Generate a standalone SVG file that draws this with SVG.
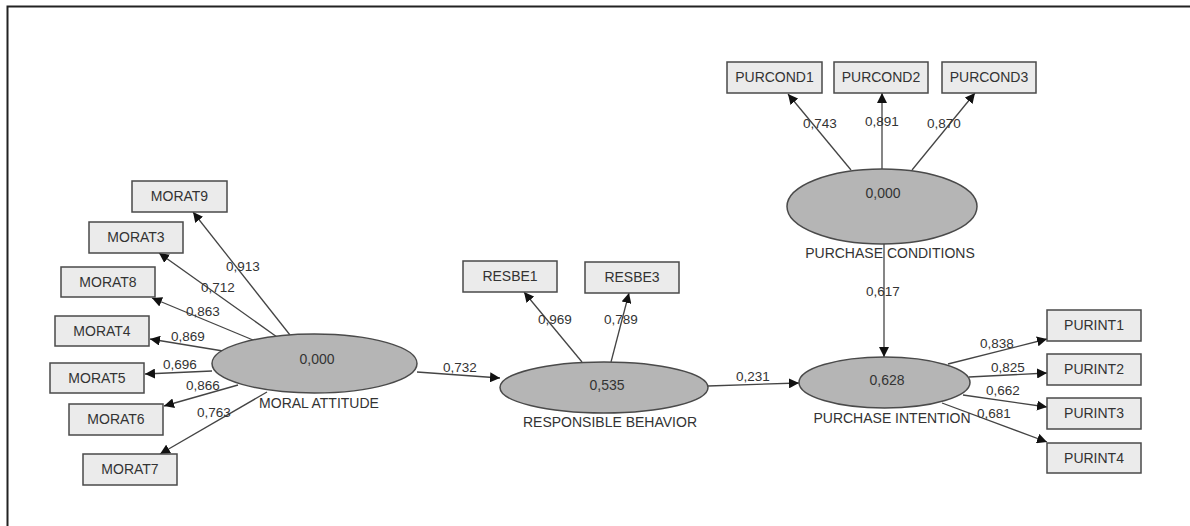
<svg xmlns="http://www.w3.org/2000/svg" width="1190" height="526" viewBox="0 0 1190 526">
<style>
.box{fill:#ebebeb;stroke:#4a4a4a;stroke-width:1.5}
.lv{fill:#b5b5b5;stroke:#4a4a4a;stroke-width:1.5}
text{font-family:"Liberation Sans",Arial,sans-serif;font-size:13.5px;fill:#333;text-anchor:middle}
.n{font-size:14px}
.c{stroke:#444;stroke-width:1.3;fill:none;marker-end:url(#ah)}
</style>
<defs>
<marker id="ah" viewBox="0 0 10 10" refX="10" refY="5" markerWidth="10" markerHeight="10" markerUnits="userSpaceOnUse" orient="auto">
<path d="M0,0 L10,5 L0,10 z" fill="#111"/>
</marker>
</defs>
<rect width="1190" height="526" fill="#fff"/>
<path d="M7.5,526 V6.5 H1190" fill="none" stroke="#222" stroke-width="2"/>
<g id="connectors">
<line class="c" x1="290" y1="335" x2="193" y2="212"/>
<line class="c" x1="277" y1="337" x2="159" y2="253"/>
<line class="c" x1="253" y1="340" x2="152" y2="298"/>
<line class="c" x1="223" y1="351" x2="150" y2="339"/>
<line class="c" x1="212" y1="371" x2="145" y2="374"/>
<line class="c" x1="238" y1="385" x2="164" y2="406"/>
<line class="c" x1="267" y1="392" x2="160" y2="454"/>
<line class="c" x1="417" y1="372" x2="500" y2="378"/>
<line class="c" x1="582" y1="362" x2="524" y2="292"/>
<line class="c" x1="611" y1="362" x2="629" y2="293"/>
<line class="c" x1="708" y1="386" x2="799" y2="383"/>
<line class="c" x1="851" y1="170" x2="788" y2="94"/>
<line class="c" x1="882" y1="169" x2="882" y2="93"/>
<line class="c" x1="912" y1="170" x2="975" y2="93"/>
<line class="c" x1="884" y1="244" x2="884" y2="357"/>
<line class="c" x1="948" y1="364" x2="1047" y2="339"/>
<line class="c" x1="969" y1="377" x2="1047" y2="373"/>
<line class="c" x1="963" y1="395" x2="1047" y2="407"/>
<line class="c" x1="942" y1="403" x2="1047" y2="442"/>
<text x="243" y="271">0,913</text>
<text x="218" y="292">0,712</text>
<text x="203" y="316">0,863</text>
<text x="188" y="341">0,869</text>
<text x="180" y="369">0,696</text>
<text x="203" y="390">0,866</text>
<text x="214" y="417">0,763</text>
<text x="460" y="372">0,732</text>
<text x="555" y="324">0,969</text>
<text x="621" y="324">0,789</text>
<text x="753" y="381">0,231</text>
<text x="820" y="128">0,743</text>
<text x="882" y="126">0,891</text>
<text x="944" y="128">0,870</text>
<text x="883" y="296">0,617</text>
<text x="997" y="348">0,838</text>
<text x="1008" y="372">0,825</text>
<text x="1003" y="395">0,662</text>
<text x="994" y="418">0,681</text>
</g>
<g id="MORAL_ATTITUDE"><ellipse class="lv" cx="314.5" cy="363.5" rx="102.5" ry="29.5"/><text class="n" x="317" y="364">0,000</text><text class="n" x="319" y="408">MORAL ATTITUDE</text></g>
<g id="RESPONSIBLE_BEHAVIOR"><ellipse class="lv" cx="604" cy="387.5" rx="104" ry="25.5"/><text class="n" x="607" y="390">0,535</text><text class="n" x="610" y="427">RESPONSIBLE BEHAVIOR</text></g>
<g id="PURCHASE_CONDITIONS"><ellipse class="lv" cx="882" cy="206.5" rx="95" ry="37.5"/><text class="n" x="883" y="198">0,000</text><text class="n" x="890" y="258">PURCHASE CONDITIONS</text></g>
<g id="PURCHASE_INTENTION"><ellipse class="lv" cx="884.5" cy="382.5" rx="85.5" ry="25.5"/><text class="n" x="887" y="385">0,628</text><text class="n" x="892" y="423">PURCHASE INTENTION</text></g>
<g id="MORAT9"><rect class="box" x="132" y="181" width="95" height="31"/><text class="n" x="179.5" y="201">MORAT9</text></g>
<g id="MORAT3"><rect class="box" x="89" y="222" width="94" height="31"/><text class="n" x="136" y="242">MORAT3</text></g>
<g id="MORAT8"><rect class="box" x="61" y="267" width="94" height="30"/><text class="n" x="108" y="287">MORAT8</text></g>
<g id="MORAT4"><rect class="box" x="55" y="316" width="94" height="30"/><text class="n" x="102" y="336">MORAT4</text></g>
<g id="MORAT5"><rect class="box" x="50" y="363" width="94" height="30"/><text class="n" x="97" y="383">MORAT5</text></g>
<g id="MORAT6"><rect class="box" x="69" y="404" width="94" height="31"/><text class="n" x="116" y="424">MORAT6</text></g>
<g id="MORAT7"><rect class="box" x="83" y="454" width="94" height="31"/><text class="n" x="130" y="474">MORAT7</text></g>
<g id="RESBE1"><rect class="box" x="463" y="261" width="94" height="31"/><text class="n" x="510" y="281">RESBE1</text></g>
<g id="RESBE3"><rect class="box" x="585" y="262" width="94" height="31"/><text class="n" x="632" y="282">RESBE3</text></g>
<g id="PURCOND1"><rect class="box" x="727" y="62" width="95" height="31"/><text class="n" x="774.5" y="82">PURCOND1</text></g>
<g id="PURCOND2"><rect class="box" x="834" y="62" width="94" height="31"/><text class="n" x="881" y="82">PURCOND2</text></g>
<g id="PURCOND3"><rect class="box" x="942" y="62" width="94" height="31"/><text class="n" x="989" y="82">PURCOND3</text></g>
<g id="PURINT1"><rect class="box" x="1047" y="310" width="94" height="31"/><text class="n" x="1094" y="330">PURINT1</text></g>
<g id="PURINT2"><rect class="box" x="1047" y="354" width="94" height="31"/><text class="n" x="1094" y="374">PURINT2</text></g>
<g id="PURINT3"><rect class="box" x="1047" y="398" width="94" height="31"/><text class="n" x="1094" y="418">PURINT3</text></g>
<g id="PURINT4"><rect class="box" x="1047" y="443" width="94" height="30"/><text class="n" x="1094" y="463">PURINT4</text></g>
</svg>
